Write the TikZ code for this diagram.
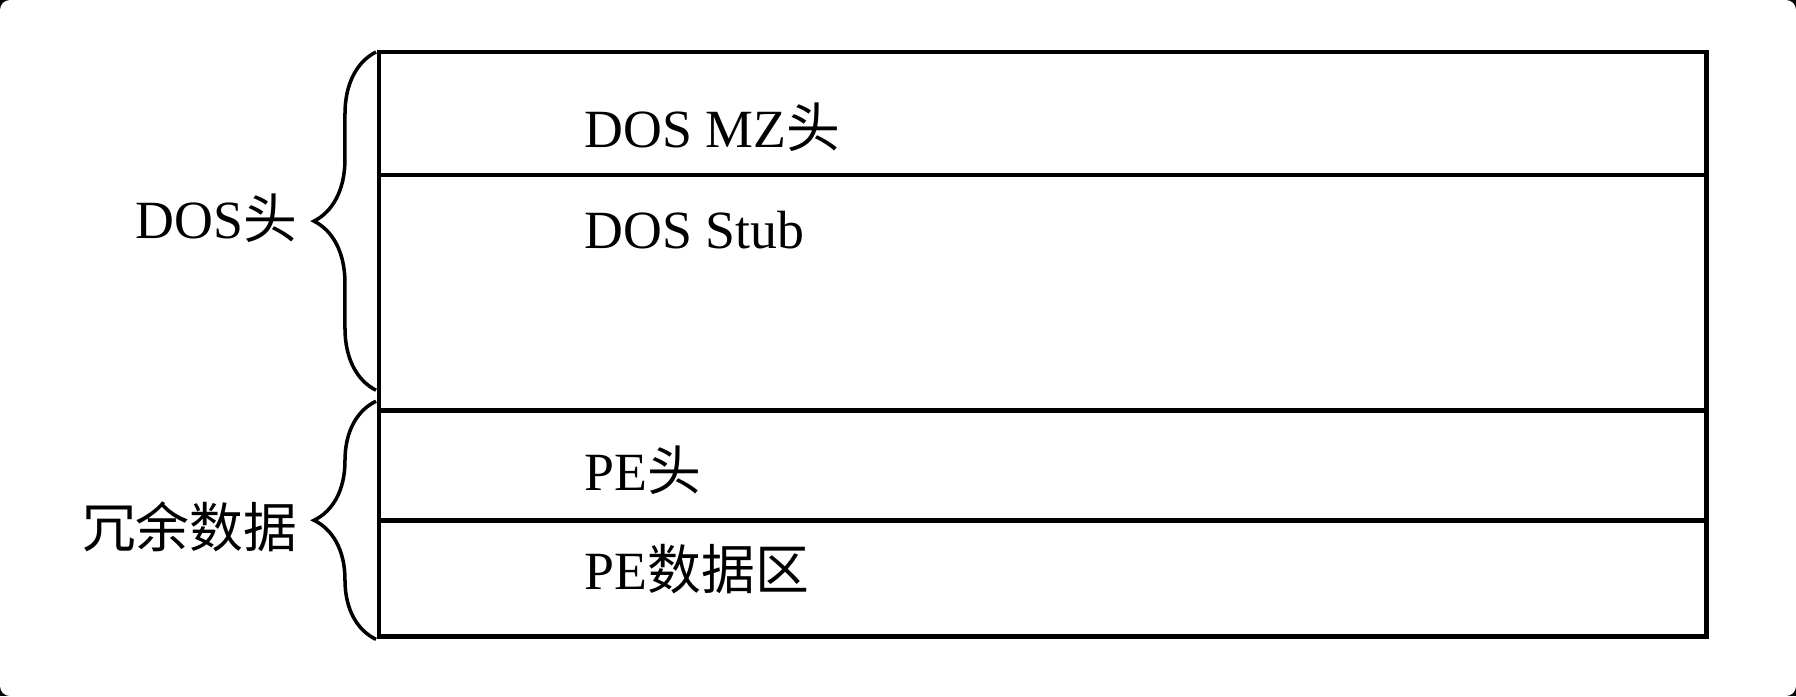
\documentclass[tikz,border=0pt]{standalone}
\usepackage{fontspec}
\setmainfont{Liberation Serif}
\newfontfamily\cjk{Noto Sans CJK SC}
\usetikzlibrary{positioning,decorations.pathreplacing}

\begin{document}
\begin{tikzpicture}[x=.01cm,y=-.01cm,every node/.style={font=\fontsize{15.3}{18}\selectfont},
    row/.style={draw,line width=1.35pt,minimum width=13.27cm,inner sep=0pt,outer sep=0pt},
    lbl/.style={anchor=base west,inner sep=0pt},
    brc/.style={decorate,decoration={brace,amplitude=.62cm},line width=1pt}]
      \fill[black] (0,0) rectangle (1796,696);
      \fill[white,rounded corners=.1cm] (0,0) rectangle (1796,696);
      % the file layout, top to bottom
      \node[row,anchor=north west,minimum height=1.23cm] (mz) at (379,52) {};
      \node[row,minimum height=2.35cm,below=0pt of mz] (stub) {};
      \node[row,minimum height=1.10cm,below=0pt of stub] (pe) {};
      \node[row,minimum height=1.16cm,below=0pt of pe] (data) {};
      \node[lbl] (tmz) at (584,147) {DOS MZ{\cjk 头}};
      \node[lbl] (tstub) at (584,248) {DOS Stub};
      \node[lbl] (tpe) at (584,490) {PE{\cjk 头}};
      \node[lbl] (tdata) at (584,589) {PE{\cjk 数据区}};
      % braces on the left
      \draw[brc] ([xshift=-.03cm,yshift=.2cm]stub.south west) -- ([xshift=-.03cm]mz.north west);
      \draw[brc] ([xshift=-.03cm,yshift=-.03cm]data.south west) -- ([xshift=-.03cm,yshift=.09cm]pe.north west);
      \node[anchor=east,inner sep=0pt] (doshd) at (298,218) {DOS{\cjk 头}};
      \node[anchor=east,inner sep=0pt] (redund) at (298,527) {\cjk 冗余数据};
    \end{tikzpicture}
\end{document}
